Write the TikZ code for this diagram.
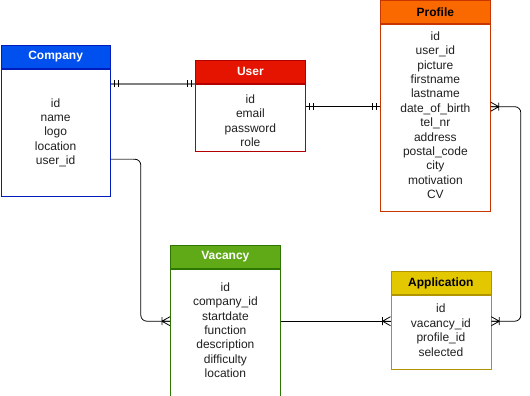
\documentclass[tikz,border=0pt]{standalone}
\usepackage{fontspec}
\setmainfont{Liberation Sans}
\usetikzlibrary{calc}

% draw.io palette for the entity tables
\definecolor{compFill}{HTML}{0050EF}
\definecolor{compLine}{HTML}{001DBC}
\definecolor{userFill}{HTML}{E51400}
\definecolor{userLine}{HTML}{B20000}
\definecolor{profFill}{HTML}{FA6800}
\definecolor{profLine}{HTML}{C73500}
\definecolor{vacFill}{HTML}{60A917}
\definecolor{vacLine}{HTML}{2D7600}
\definecolor{appFill}{HTML}{E3C800}
\definecolor{appLine}{HTML}{B09500}
\definecolor{txt}{HTML}{202020}
\definecolor{relGray}{HTML}{808080}

\begin{document}
\begin{tikzpicture}[x=1pt,y=-1pt,
  font=\fontsize{12}{14.4}\selectfont,
  tablehead/.style={draw=#1, line width=0.8pt, anchor=north west, inner sep=0pt,
    minimum height=23pt, font=\fontsize{12}{14.4}\selectfont\bfseries},
  tablebody/.style={draw=#1, line width=0.8pt, anchor=north, inner sep=0pt,
    fill=white},
  fields/.style={text=txt, align=center, inner sep=0pt},
  rel/.style={draw=black, line width=0.8pt},
  % one-and-only-one mark: end point at the table edge, table on the +x side
  erone/.pic={\draw[line width=0.8pt] (-4,-3.5) -- (-4,3.5) (-8,-3.5) -- (-8,3.5);},
  % one-or-many mark (crow's foot), table on the +x side
  ermany/.pic={\draw[line width=0.8pt] (-8,-4) -- (-8,4)
                 (-8,0) -- (0,-4.5) (-8,0) -- (0,4.5) (-8,0) -- (0,0);},
]
\useasboundingbox (0,0) rectangle (530,396);

% ---- Company ----
\node[tablehead=compLine, fill=compFill, text=white, minimum width=109.5pt]
  (companyH) at (0.5,45) {Company};
\node[tablebody=compLine, minimum width=109.5pt, minimum height=127pt]
  (company) at (companyH.south) {};
\node[fields] (companyT) at (company.center) {id\\name\\logo\\location\\user\_id};

% ---- User ----
\node[tablehead=userLine, fill=userFill, text=white, minimum width=110pt]
  (userH) at (195,60) {User};
\node[tablebody=userLine, minimum width=110pt, minimum height=67pt]
  (user) at (userH.south) {};
\node[fields] (userT) at ($(user.center)+(0,3)$) {id\\email\\password\\role};

% ---- Profile ----
\node[tablehead=profLine, fill=profFill, text=black, minimum width=110pt]
  (profileH) at (380,0.5) {Profile};
\node[tablebody=profLine, minimum width=110pt, minimum height=187pt]
  (profile) at (profileH.south) {};
\node[fields] (profileT) at ($(profile.center)+(0,-3)$)
  {id\\user\_id\\picture\\firstname\\lastname\\date\_of\_birth\\tel\_nr\\address\\postal\_code\\city\\motivation\\CV};

% ---- Vacancy ----
\node[tablehead=vacLine, fill=vacFill, text=white, minimum width=110pt]
  (vacancyH) at (170,245) {Vacancy};
\node[tablebody=vacLine, minimum width=110pt, minimum height=127pt]
  (vacancy) at (vacancyH.south) {};
\node[fields] (vacancyT) at ($(vacancy.center)+(0,-2.5)$)
  {id\\company\_id\\startdate\\function\\description\\difficulty\\location};

% ---- Application ----
\node[tablehead=appLine, fill=appFill, text=black, minimum width=100pt]
  (applicationH) at (390.5,271) {Application};
\node[tablebody=appLine, minimum width=100pt, minimum height=74pt]
  (application) at (applicationH.south) {};
\node[fields] (applicationT) at ($(application.center)+(0,-2)$)
  {id\\vacancy\_id\\profile\_id\\selected};

% ---- Relations ----
% Company -- User (one to one)
\coordinate (cu) at (company.east |- user.north west);
\draw[rel, draw=relGray, line width=1.4pt] (cu) -- (user.north west);
\pic[rotate=180] at (cu) {erone};
\pic at (user.north west) {erone};

% User -- Profile (one to one)
\coordinate (up) at ($(user.east)+(0,-11)$);
\coordinate (pu) at (profile.west |- up);
\draw[rel] (up) -- (pu);
\pic[rotate=180] at (up) {erone};
\pic at (pu) {erone};

% Company -- Vacancy (one to many)
\coordinate (cv) at ($(company.east)+(0,26.5)$);
\coordinate (vc) at ($(vacancy.west)+(0,-11.5)$);
\draw[rel, rounded corners=6pt] (cv) -- ++(30,0) |- (vc);
\draw[rel, draw=relGray, line width=1.2pt] (cv) -- ++(22,0);
\pic at (vc) {ermany};

% Vacancy -- Application (one to many)
\coordinate (va) at (vacancy.east |- vc);
\coordinate (av) at (application.west |- vc);
\draw[rel] (va) -- (av);
\pic at (av) {ermany};

% Profile -- Application (many to many)
\coordinate (pa) at ($(profile.east)+(0,-11.5)$);
\coordinate (ap) at (application.east |- vc);
\draw[rel, rounded corners=6pt] (pa) -- ++(30,0) |- (ap);
\pic[rotate=180] at (pa) {ermany};
\pic[rotate=180] at (ap) {ermany};
\end{tikzpicture}
\end{document}
